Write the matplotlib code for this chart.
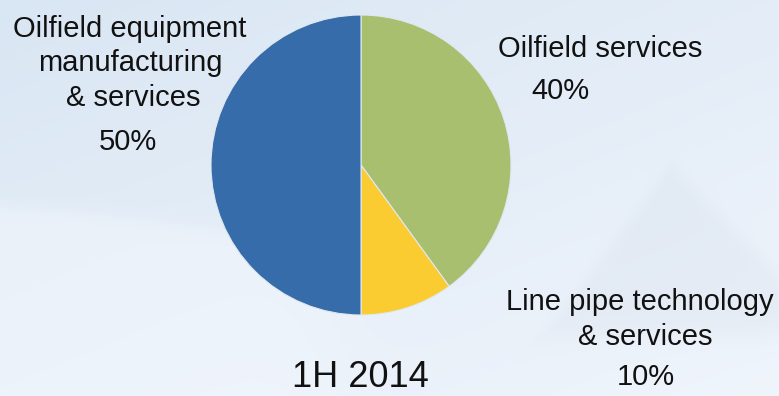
import numpy as np
import matplotlib.pyplot as plt

plt.rcParams['font.family'] = ['Liberation Sans', 'DejaVu Sans']

# 数据
segments = ['Oilfield services', 'Line pipe technology\n& services', 'Oilfield equipment\nmanufacturing\n& services']
shares = [40, 10, 50]
colors = ['#A9BF70', '#FACC32', '#366CAA']
period = '1H 2014'

W, H = 779, 396
fig = plt.figure(figsize=(W / 100, H / 100), dpi=100)
ax = fig.add_axes([0, 0, 1, 1])


def soft(d, w):
    # 柔和边缘
    return 1 / (1 + np.exp(-d / w))


# 背景渐变（浅蓝到近白）
yy, xx = np.mgrid[0:H, 0:W].astype(float)
t = np.clip(0.55 * yy / H + 0.45 * xx / W, 0, 1)
top = np.array([217, 230, 243]) / 255
bot = np.array([240, 245, 252]) / 255
bg = top[None, None, :] * (1 - t[..., None]) + bot[None, None, :] * t[..., None]

# 左下方较亮的弧形带
curve = 205 + 45 * (xx / 330) ** 1.3
band = soft(yy - curve, 5) * soft(340 - xx, 25) * 0.45
bg = bg * (1 - band[..., None]) + band[..., None] * np.array([246, 249, 254]) / 255
# 右侧浅灰三角
d1 = (yy - 165) - 1.35 * (670 - xx)
d2 = (yy - 165) - 1.0 * (xx - 670)
d3 = (335 - yy)
tri = soft(np.minimum(np.minimum(d1, d2), d3), 6) * 0.22
bg = bg * (1 - tri[..., None]) + tri[..., None] * np.array([205, 214, 226]) / 255
ax.imshow(np.clip(bg, 0, 1), extent=[0, W, 0, H], origin='upper', zorder=0, aspect='auto')

# 饼图
ax.pie(shares, colors=colors, startangle=90, counterclock=False, center=(361, 231), radius=150,
       frame=True, wedgeprops=dict(edgecolor='#dfe8f2', linewidth=0.8, zorder=2))

ax.set_xlim(0, W)
ax.set_ylim(0, H)
ax.axis('off')

txt = dict(color='#111111', fontsize=21, ha='center', va='baseline', zorder=3)
# 左侧标签
ax.text(130, 396 - 37, 'Oilfield equipment', **txt)
ax.text(130, 396 - 71, 'manufacturing', **txt)
ax.text(133, 396 - 106, '& services', **txt)
ax.text(128, 396 - 150, f'{shares[2]}%', **txt)
# 右上标签
ax.text(600, 396 - 57, segments[0], **txt)
ax.text(560, 396 - 99, f'{shares[0]}%', **txt)
# 右下标签
ax.text(640, 396 - 310, 'Line pipe technology', **txt)
ax.text(645, 396 - 345, '& services', **txt)
ax.text(646, 396 - 385, f'{shares[1]}%', **txt)
# 期间
ax.text(360, 396 - 387, period, color='#111111', fontsize=26, ha='center', va='baseline', zorder=3)

fig.savefig('out.png', dpi=100)
